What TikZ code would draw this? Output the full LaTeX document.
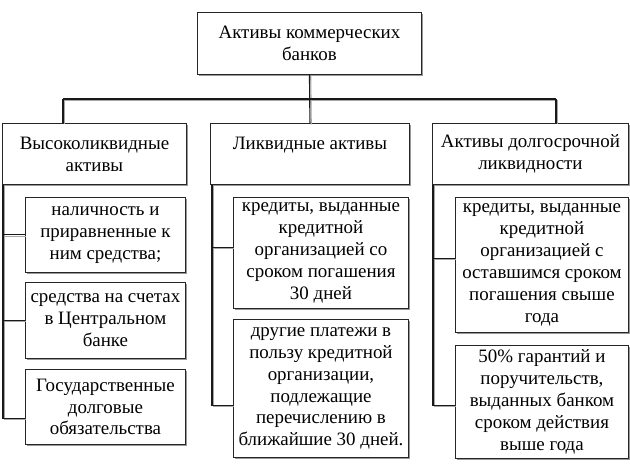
\documentclass[tikz,border=0pt]{standalone}
\usepackage{fontspec}
\setmainfont{Liberation Serif}
\usetikzlibrary{shadows}
\begin{document}
\begin{tikzpicture}[x=1bp,y=-1bp,
  box/.style={draw=black!85, line width=0.9bp, fill=white, anchor=north west,
    inner sep=0pt, align=center, font=\fontsize{19}{22}\selectfont,
    drop shadow={shadow xshift=1.5bp, shadow yshift=-1.5bp, opacity=1, fill=black!40}},
  conn/.style={draw=black!90, line width=1.1bp},
  connsh/.style={draw=black!35, line width=1.1bp, transform canvas={xshift=1.3bp,yshift=-1.3bp}}]
\useasboundingbox[fill=white] (0,0) rectangle (630,468);

% nodes
\node[box, minimum width=224bp, minimum height=62bp] (top) at (197,12) {Активы коммерческих\\банков};

\node[box, minimum width=184bp, minimum height=61bp] (L1) at (2,123) {Высоколиквидные\\активы};
\node[box, minimum width=199bp, minimum height=61bp] (M1) at (210,123) {Ликвидные активы\\\mbox{}};
\node[box, minimum width=196bp, minimum height=61bp] (R1) at (432,123) {Активы долгосрочной\\ликвидности};

\node[box, minimum width=160bp, minimum height=75bp] (LS1) at (25,197) {наличность и\\приравненные к\\ним средства;};
\node[box, minimum width=160bp, minimum height=76bp] (LS2) at (25,282) {средства на счетах\\в Центральном\\банке};
\node[box, minimum width=160bp, minimum height=75bp] (LS3) at (25,369) {Государственные\\долговые\\обязательства};

\node[box, minimum width=175bp, minimum height=111bp] (MS1) at (233,197) {кредиты, выданные\\кредитной\\организацией со\\сроком погашения\\30 дней};
\node[box, minimum width=175bp, minimum height=138bp] (MS2) at (233,319) {другие платежи в\\пользу кредитной\\организации,\\подлежащие\\перечислению в\\ближайшие 30 дней.};

\node[box, minimum width=173bp, minimum height=135bp] (RS1) at (455,197) {кредиты, выданные\\кредитной\\организацией с\\оставшимся сроком\\погашения свыше\\года};
\node[box, minimum width=173bp, minimum height=113bp] (RS2) at (455,345) {50\% гарантий и\\поручительств,\\выданных банком\\сроком действия\\выше года};

% connector helper coordinates
\coordinate (bl) at (63,99);
\coordinate (br) at (556,99);
\coordinate (ls0) at ([xshift=1bp]L1.south west);
\coordinate (ms0) at ([xshift=2bp]M1.south west);
\coordinate (rs0) at ([xshift=1bp]R1.south west);
\coordinate (lc3) at ([yshift=-11.5bp]LS3.west);
\coordinate (mc1) at ([yshift=5.5bp]MS1.west);
\coordinate (mc2) at ([yshift=-17bp]MS2.west);
\coordinate (rc1) at ([yshift=6.5bp]RS1.west);
\coordinate (rc2) at ([yshift=-3.5bp]RS2.west);

% shadows of connectors
\draw[connsh] (top.south) -- (M1.north);
\draw[connsh] (bl) -- (br);
\draw[connsh] (bl) -- (bl |- L1.north);
\draw[connsh] (br) -- (br |- R1.north);
\draw[connsh] (ls0) |- (lc3);
\draw[connsh] (LS1.west -| ls0) -- (LS1.west);
\draw[connsh] (LS2.west -| ls0) -- (LS2.west);
\draw[connsh] (ms0) |- (mc2);
\draw[connsh] (mc1 -| ms0) -- (mc1);
\draw[connsh] (rs0) |- (rc2);
\draw[connsh] (rc1 -| rs0) -- (rc1);

% connectors
\draw[conn] (top.south) -- (M1.north);
\draw[conn] (bl) -- (br);
\draw[conn] (bl) -- (bl |- L1.north);
\draw[conn] (br) -- (br |- R1.north);
\draw[conn] (ls0) |- (lc3);
\draw[conn] (LS1.west -| ls0) -- (LS1.west);
\draw[conn] (LS2.west -| ls0) -- (LS2.west);
\draw[conn] (ms0) |- (mc2);
\draw[conn] (mc1 -| ms0) -- (mc1);
\draw[conn] (rs0) |- (rc2);
\draw[conn] (rc1 -| rs0) -- (rc1);
\end{tikzpicture}
\end{document}
